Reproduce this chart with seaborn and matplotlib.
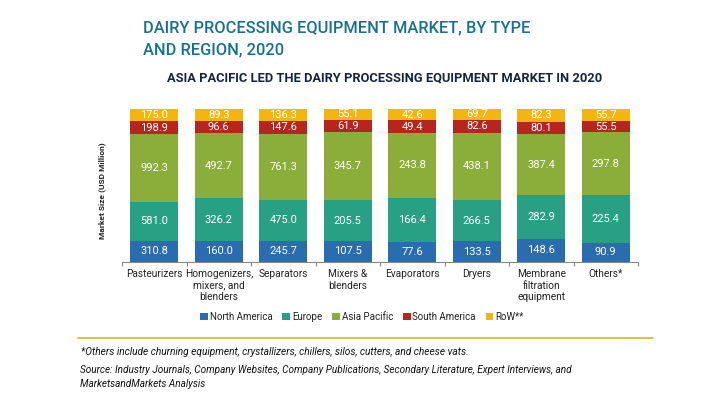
import numpy as np
import pandas as pd
import seaborn as sns
import matplotlib.pyplot as plt
from matplotlib.lines import Line2D

sns.set_style("white")
plt.rcParams['font.family'] = ['Roboto', 'DejaVu Sans']

types = ["Pasteurizers", "Homogenizers,\nmixers, and\nblenders", "Separators", "Mixers &\nblenders",
         "Evaporators", "Dryers", "Membrane\nfiltration\nequipment", "Others*"]
north_america = [310.8, 160.0, 245.7, 107.5, 77.6, 133.5, 148.6, 90.9]
europe = [581.0, 326.2, 475.0, 205.5, 166.4, 266.5, 282.9, 225.4]
asia_pacific = [992.3, 492.7, 761.3, 345.7, 243.8, 438.1, 387.4, 297.8]
south_america = [198.9, 96.6, 147.6, 61.9, 49.4, 82.6, 80.1, 55.5]
row = [175.0, 89.3, 136.3, 55.1, 42.6, 69.7, 82.3, 55.7]

regions = ["North America", "Europe", "Asia Pacific", "South America", "RoW**"]
colors = ["#2a6cb0", "#27a084", "#8bad3a", "#b6261e", "#f3b50e"]

df = pd.DataFrame(dict(zip(regions, [north_america, europe, asia_pacific, south_america, row])), index=types)
shares = df.div(df.sum(axis=1), axis=0)

fig = plt.figure(figsize=(7.2, 4.05), dpi=100)
ax = fig.add_axes([122/720, 1-262/405, 516/720, 153/405])

# 100% stacked, bars are drawn one region at a time
bottom = np.zeros(len(types))
for reg, col in zip(regions, colors):
    sns.barplot(x=types, y=shares[reg].values, bottom=bottom, color=col, width=0.75,
                saturation=1, edgecolor=col, linewidth=0, ax=ax, label=reg)
    ax.bar_label(ax.containers[-1], labels=["%.1f" % v for v in df[reg]], label_type='center',
                 color='white', fontsize=8)
    bottom = bottom + shares[reg].values

ax.set_xlim(-0.5, 7.5)
ax.set_ylim(0, 1)
ax.set_yticks([])
ax.set_ylabel("Market Size (USD Million)", fontsize=6, fontweight='bold', color='#222222')
ax.yaxis.set_label_coords(-0.031, 0.464)
sns.despine(ax=ax, left=True)
ax.spines['bottom'].set_color('#888888')
ax.set_xticks(np.arange(-0.5, 8), minor=True)
ax.tick_params(axis='x', which='minor', length=3, width=0.8, color='#888888', bottom=True)
ax.tick_params(axis='x', which='major', length=0, pad=5, labelsize=7.3, labelcolor='#222222')

ax.legend(loc='center', bbox_to_anchor=(0.465, -0.36), ncol=5, frameon=False, fontsize=7,
          handlelength=0.8, handleheight=0.8, handletextpad=0.2, columnspacing=1.0, labelcolor='#222222')

fig.text(143/720, 1-39/405, "DAIRY PROCESSING EQUIPMENT MARKET, BY TYPE\nAND REGION, 2020", fontsize=11.8,
         color='#17708f', va='center', ha='left', linespacing=1.6, fontweight='medium')
fig.text(167/720, 1-78/405, "ASIA PACIFIC LED THE DAIRY PROCESSING EQUIPMENT MARKET IN 2020", fontsize=9.3,
         fontweight='bold', color='#14263f', va='center', ha='left')

fig.add_artist(Line2D([78/720, 653/720], [1-338/405, 1-338/405], color='#d9bb4a', lw=1.3))
fig.text(81/720, 1-352/405, "*Others include churning equipment, crystallizers, chillers, silos, cutters, and cheese vats.",
         fontsize=7.3, style='italic', color='#111111', va='center')
fig.text(80/720, 1-377/405, "Source: Industry Journals, Company Websites, Company Publications, Secondary Literature, Expert Interviews, and\nMarketsandMarkets Analysis",
         fontsize=7.2, style='italic', color='#111111', va='center', linespacing=1.4)

fig.savefig('out.png', dpi=100)
